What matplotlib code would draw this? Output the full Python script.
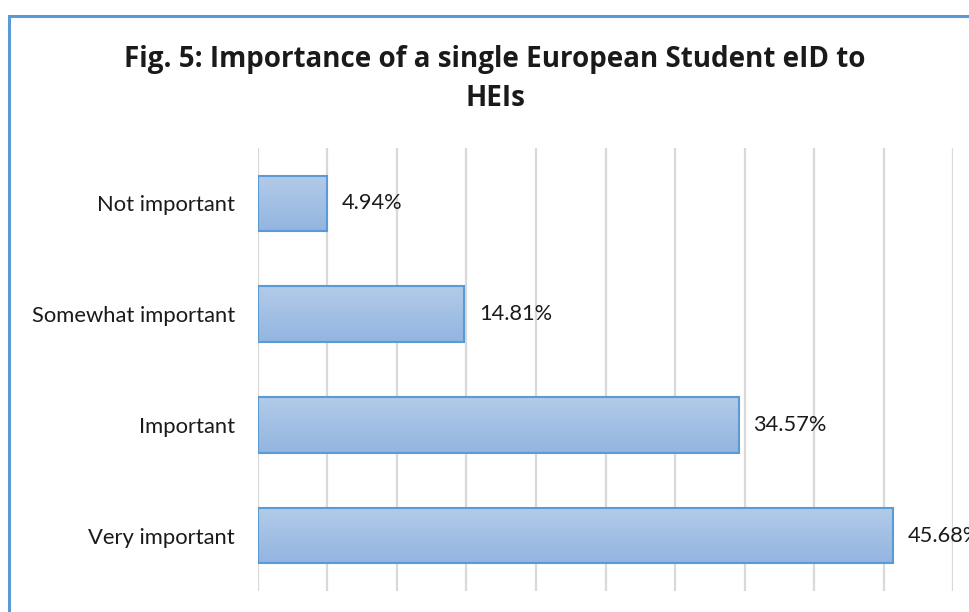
import matplotlib
matplotlib.use("Agg")
import matplotlib.pyplot as plt
import numpy as np
from matplotlib.patches import Rectangle
from matplotlib.colors import LinearSegmentedColormap

categories = ["Not important", "Somewhat important", "Important", "Very important"]
values = [4.94, 14.81, 34.57, 45.68]
value_labels = ["4.94%", "14.81%", "34.57%", "45.68%"]
title = "Fig. 5: Importance of a single European Student eID to\nHEIs"

W, H = 970, 612
fig = plt.figure(figsize=(W / 100, H / 100), dpi=100)
fig.patch.set_facecolor("white")

# outer chart frame (cropped at right and bottom, as in the reference)
frame = Rectangle((9.5 / W, -0.1), 1.2, 1 - 16 / H + 0.1, transform=fig.transFigure,
                  fill=False, edgecolor="#5b9bd5", linewidth=2.2, clip_on=False)
fig.add_artist(frame)

ax = fig.add_axes([258 / W, 1 - 591 / H, (953 - 258) / W, (591 - 148) / H])
ax.set_xlim(0, 50)
ax.set_ylim(3.5, -0.5)
ax.set_xticks(np.arange(0, 51, 5))
ax.grid(axis="x", color="#d9d9d9", linewidth=1.6)
ax.set_axisbelow(True)
for s in ax.spines.values():
    s.set_visible(False)
ax.tick_params(axis="x", length=0, labelbottom=False)
ax.tick_params(axis="y", length=0, pad=16.5)
ax.set_yticks(range(len(categories)))
ax.set_yticklabels(categories, fontsize=15.8, family=["Lato", "DejaVu Sans"], color="#1a1a1a")

bars = ax.barh(range(len(categories)), values, height=0.5, facecolor="none",
               edgecolor="#5b9bd5", linewidth=1.5, zorder=3)
grad = np.linspace(0, 1, 256).reshape(-1, 1)
cmap = LinearSegmentedColormap.from_list("g", ["#b3cbe9", "#92b5e0"])
for b in bars:
    x0, y0 = b.get_x(), b.get_y()
    w, h = b.get_width(), b.get_height()
    im = ax.imshow(grad, cmap=cmap, aspect="auto", extent=(x0, x0 + w, y0 + h, y0),
                   origin="upper", zorder=2)
    im.set_clip_path(b)
ax.set_xlim(0, 50)
ax.set_ylim(3.5, -0.5)

for i, (v, lab) in enumerate(zip(values, value_labels)):
    ax.annotate(lab, (v, i), xytext=(15, 0), textcoords="offset pixels",
                va="center", ha="left", fontsize=15.7, family=["Lato", "DejaVu Sans"],
                color="#1a1a1a", annotation_clip=False)

fig.text(495 / W, 1 - 79 / H, title, ha="center", va="center", fontsize=20,
         fontweight="bold", family=["Open Sans", "DejaVu Sans"], color="#1a1a1a",
         linespacing=1.45)

fig.savefig("out.png", dpi=100)
